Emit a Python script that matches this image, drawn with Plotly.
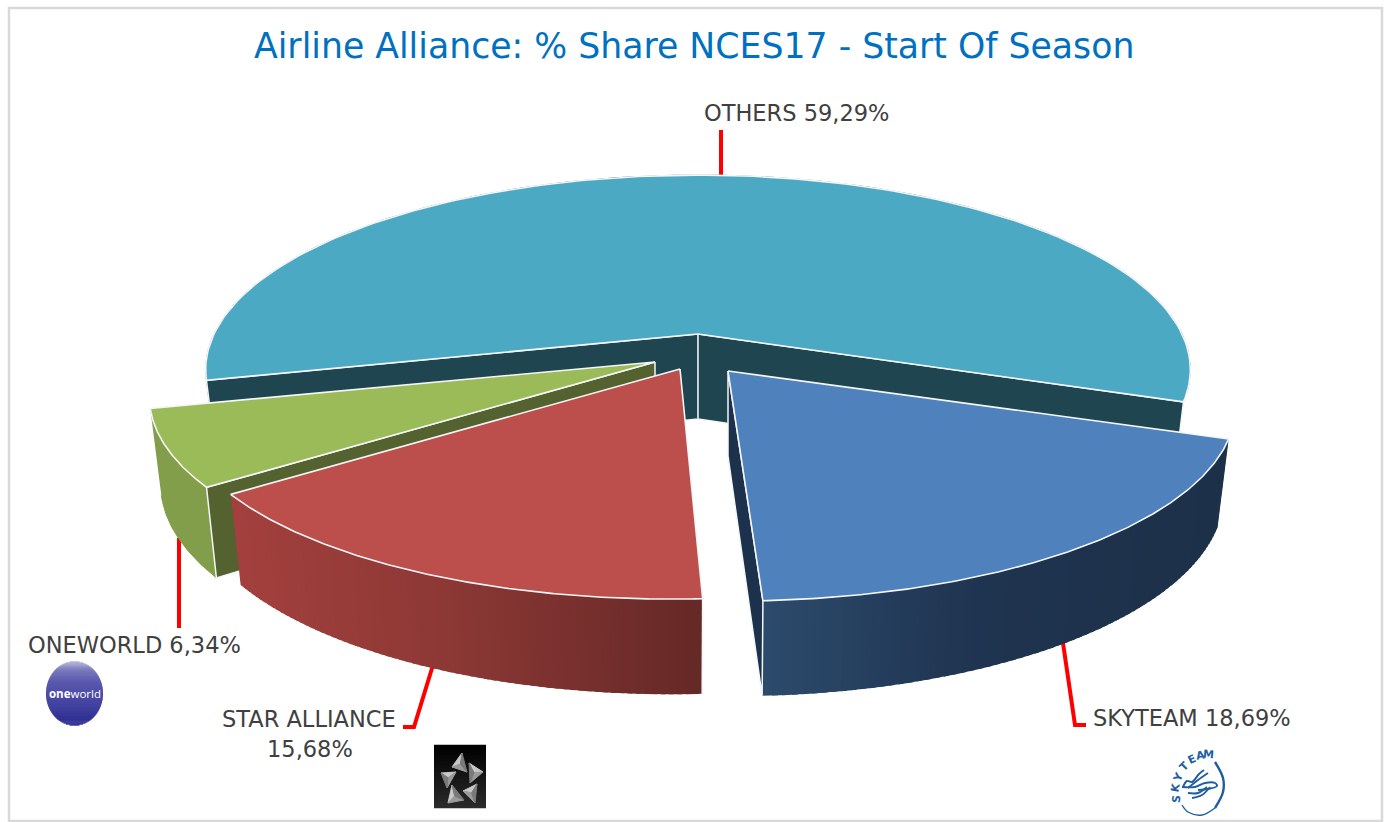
import numpy as np
import plotly.graph_objects as go

# ---- data ----
categories = ["SKYTEAM", "STAR ALLIANCE", "ONEWORLD", "OTHERS"]
shares = [18.69, 15.68, 6.34, 59.29]
title_text = "Airline Alliance: % Share NCES17 - Start Of Season"

# ---- styles / projection ----
START = -19.8      # degrees; slices run clockwise from here
P, RY, DEPTH, KX, KY = 0.183, 188.0, 85.0, 0.978, 1.044
apex = {"SKYTEAM": (728, 371), "STAR ALLIANCE": (680, 369), "ONEWORLD": (655, 362), "OTHERS": (698, 334)}
radx = {"SKYTEAM": 498, "STAR ALLIANCE": 493, "ONEWORLD": 497, "OTHERS": 484}
shear = {"SKYTEAM": 0.017, "STAR ALLIANCE": -0.035, "ONEWORLD": 0.0, "OTHERS": 0.0}
top_col = {"SKYTEAM": "#4f81bd", "STAR ALLIANCE": "#bc4f4c", "ONEWORLD": "#9bbb59", "OTHERS": "#4ba9c4"}
wall_col = {"SKYTEAM": "#1c314b", "STAR ALLIANCE": "#652826", "ONEWORLD": "#53622f", "OTHERS": "#1f4550"}
side_flat = {"ONEWORLD": "#829e4a", "OTHERS": "#1f4550"}
side_stops = {
    "SKYTEAM": [(0.0, (44, 74, 108)), (0.45, (31, 52, 80)), (1.0, (29, 48, 73))],
    "STAR ALLIANCE": [(0.0, (163, 64, 61)), (0.45, (140, 56, 53)), (1.0, (100, 40, 38))],
}
EDGE = "#f4f6f8"

fig = go.Figure()


def poly(xs, ys, fill, line=None, w=1.0):
    fig.add_trace(go.Scatter(x=list(xs), y=list(ys), mode="lines", fill="toself", fillcolor=fill,
                             line=dict(color=line or fill, width=w), hoverinfo="skip", showlegend=False))


def stroke(xs, ys, col, w, shape="linear"):
    fig.add_trace(go.Scatter(x=list(xs), y=list(ys), mode="lines", line=dict(color=col, width=w, shape=shape),
                             hoverinfo="skip", showlegend=False))


def rim(name, deg):
    t = np.radians(deg)
    u, v = np.cos(t), np.sin(t)
    s = 1 / (1 + P * v)
    x, y = radx[name] * u * s, -RY * v * s
    return x + shear[name] * y, y


def top(name, deg):
    x, y = rim(name, deg)
    return apex[name][0] + x, apex[name][1] + y


def bottom(name, deg):
    x, y = rim(name, deg)
    return apex[name][0] + KX * x, apex[name][1] + KY * y + DEPTH


def mix(stops, f):
    for (f0, c0), (f1, c1) in zip(stops, stops[1:]):
        if f <= f1:
            g = (f - f0) / (f1 - f0)
            return "rgb(%d,%d,%d)" % tuple(round(a + (b - a) * g) for a, b in zip(c0, c1))
    return "rgb(%d,%d,%d)" % stops[-1][1]


bounds = {}
a = START
for name, val in zip(categories, shares):
    b = a - val * 3.6
    bounds[name] = (b, a)
    a = b


def cut_face(name, deg):
    ax, ay = apex[name]
    tx, ty = top(name, deg)
    bx, by = bottom(name, deg)
    poly([ax, tx, bx, ax, ax], [ay, ty, by, ay + DEPTH, ay], wall_col[name], EDGE, 1.5)


def draw_slice(name):
    lo, hi = bounds[name]
    ax, ay = apex[name]
    # outer wall: flat, or overlapping strips each painted over the tail of the one before
    if name in side_flat:
        th = np.linspace(lo, hi, 120)
        bx, by = bottom(name, th)
        tx, ty = top(name, th)
        poly(np.r_[tx, bx[::-1]], np.r_[ty, by[::-1]], side_flat[name])
    else:
        edges = np.linspace(lo, hi, 71)
        xl, xr = top(name, edges[0])[0], top(name, edges[-1])[0]
        step = edges[1] - edges[0]
        for e0 in edges[:-1]:
            th = np.linspace(e0, min(e0 + 1.6 * step, hi), 4)
            tx, ty = top(name, th)
            bx, by = bottom(name, th)
            f = (top(name, e0)[0] - min(xl, xr)) / abs(xr - xl)
            col = mix(side_stops[name], float(np.clip(f, 0, 1)))
            fig.add_trace(go.Scatter(x=list(np.r_[tx, bx[::-1]]), y=list(np.r_[ty, by[::-1]]), mode="lines",
                                     fill="toself", fillcolor=col, line=dict(width=0, color=col),
                                     hoverinfo="skip", showlegend=False))
    # cut faces
    if name == "OTHERS":
        for deg in (hi, lo):
            cut_face(name, deg)
        stroke([ax, ax], [ay, ay + DEPTH], "#c4ccd0", 1.5)
    if name == "ONEWORLD":
        cut_face(name, hi)
    if name == "SKYTEAM":
        cut_face(name, lo)
    if name == "STAR ALLIANCE":
        tx, ty = top(name, hi)
        bx, by = bottom(name, hi)
        stroke([tx, bx], [ty, by], EDGE, 1.5)
    # top face
    th = np.linspace(lo, hi, 160)
    tx, ty = top(name, th)
    poly(np.r_[ax, tx, ax], np.r_[ay, ty, ay], top_col[name], EDGE, 1.6)


# leader lines
RED = "#ff0000"
stroke([721, 721], [130, 178], RED, 4)
stroke([179, 179], [538, 628], RED, 4)
stroke([433, 414, 403], [665, 727, 727], RED, 4)
stroke([1063, 1075, 1086], [643, 725, 725], RED, 4)

for name in ["OTHERS", "ONEWORLD", "STAR ALLIANCE", "SKYTEAM"]:
    draw_slice(name)

# ---- oneworld logo ----
CX, CY, LRX, LRY = 74.5, 693.5, 28.5, 32.0
for yy in np.arange(CY - LRY, CY + LRY, 1.0):
    half = LRX * np.sqrt(max(0.0, 1 - ((yy + 0.5 - CY) / LRY) ** 2))
    f = (yy - (CY - LRY)) / (2 * LRY)
    col = mix([(0.0, (170, 170, 210)), (0.14, (110, 110, 185)), (0.32, (78, 78, 168)),
               (0.75, (48, 48, 150)), (1.0, (26, 26, 135))], f)
    stroke([CX - half, CX + half], [yy + 0.5, yy + 0.5], col, 1.3)

# ---- star alliance logo ----
for yy in np.arange(745, 808, 1.0):
    col = mix([(0.0, (0, 0, 0)), (1.0, (44, 44, 44))], (yy - 745) / 63)
    stroke([434, 486], [yy + 0.5, yy + 0.5], col, 1.3)
tris = [[(462, 753), (452, 767), (467, 772)], [(469, 763), (483, 772), (470, 783)], [(477, 784), (463, 791), (475, 803)],
        [(452, 785), (448, 803), (464, 800)], [(441, 773), (456, 772), (447, 788)]]
for tri in tris:
    cx = sum(p[0] for p in tri) / 3
    cy = sum(p[1] for p in tri) / 3
    for (p, q), c in zip([(tri[0], tri[1]), (tri[1], tri[2]), (tri[2], tri[0])], ["#c8c8c8", "#9a9a9a", "#7a7a7a"]):
        poly([p[0], q[0], cx, p[0]], [p[1], q[1], cy, p[1]], c)

# ---- skyteam logo ----
SKY = "#1f5fa0"
stroke([1182, 1188, 1202, 1215], [805, 812, 815, 808], SKY, 1.4, "spline")
stroke([1215, 1223, 1223, 1215], [808, 792, 778, 762], SKY, 2.4, "spline")
stroke([1183, 1187, 1192, 1199, 1204], [787, 781, 782, 774, 770], SKY, 1.9, "spline")
stroke([1188, 1198, 1208], [788, 780, 773], SKY, 1.9, "spline")
stroke([1182, 1195, 1205, 1215, 1217, 1208, 1198], [787, 787, 783, 783, 786, 789, 790], SKY, 1.9, "spline")
stroke([1188, 1198, 1207], [793, 793, 787], SKY, 1.9, "spline")
stroke([1192, 1202, 1210], [798, 795, 787], SKY, 1.9, "spline")

# ---- texts ----
LABEL = dict(family="DejaVu Sans", size=22.5, color="#404040")


def fmt(name):
    return f"{shares[categories.index(name)]:.2f}".replace(".", ",") + "%"


notes = [
    (694, 46, title_text, dict(family="DejaVu Sans", size=34.7, color="#0070c0"), 0),
    (796, 113, f"OTHERS {fmt('OTHERS')}", LABEL, 0),
    (134, 645, f"ONEWORLD {fmt('ONEWORLD')}", LABEL, 0),
    (309, 719, "STAR ALLIANCE", LABEL, 0),
    (310, 749, fmt("STAR ALLIANCE"), LABEL, 0),
    (1192, 718, f"SKYTEAM {fmt('SKYTEAM')}", LABEL, 0),
    (74.5, 693, "<b>one</b>world", dict(family="Open Sans", size=11.5, color="#ffffff"), 0),
]
for ch, x, y, r in [("S", 1176, 799, -85), ("K", 1175, 788, -80), ("Y", 1178, 777, -65), ("T", 1184, 766, -45),
                    ("E", 1192, 759, -25), ("A", 1200, 755, -10), ("M", 1208, 754, 5)]:
    notes.append((x, y, f"<b>{ch}</b>", dict(family="DejaVu Sans", size=11, color=SKY), r))
annotations = [dict(x=x, y=y, xref="x", yref="y", text=t, font=f, showarrow=False, textangle=r,
                    xanchor="center", yanchor="middle") for x, y, t, f, r in notes]

fig.update_layout(
    width=1386, height=822, margin=dict(l=0, r=0, t=0, b=0), paper_bgcolor="#ffffff", plot_bgcolor="#ffffff",
    showlegend=False, annotations=annotations,
    xaxis=dict(range=[0, 1386], visible=False, fixedrange=True),
    yaxis=dict(range=[822, 0], visible=False, fixedrange=True),
    shapes=[dict(type="rect", xref="x", yref="y", x0=9, y0=8, x1=1382, y1=821, line=dict(color="#d9d9d9", width=2.5), layer="below")],
)
fig.write_html("out.html", config={"displayModeBar": False},
               post_script="document.body.style.margin='0';document.body.style.overflow='hidden';")
